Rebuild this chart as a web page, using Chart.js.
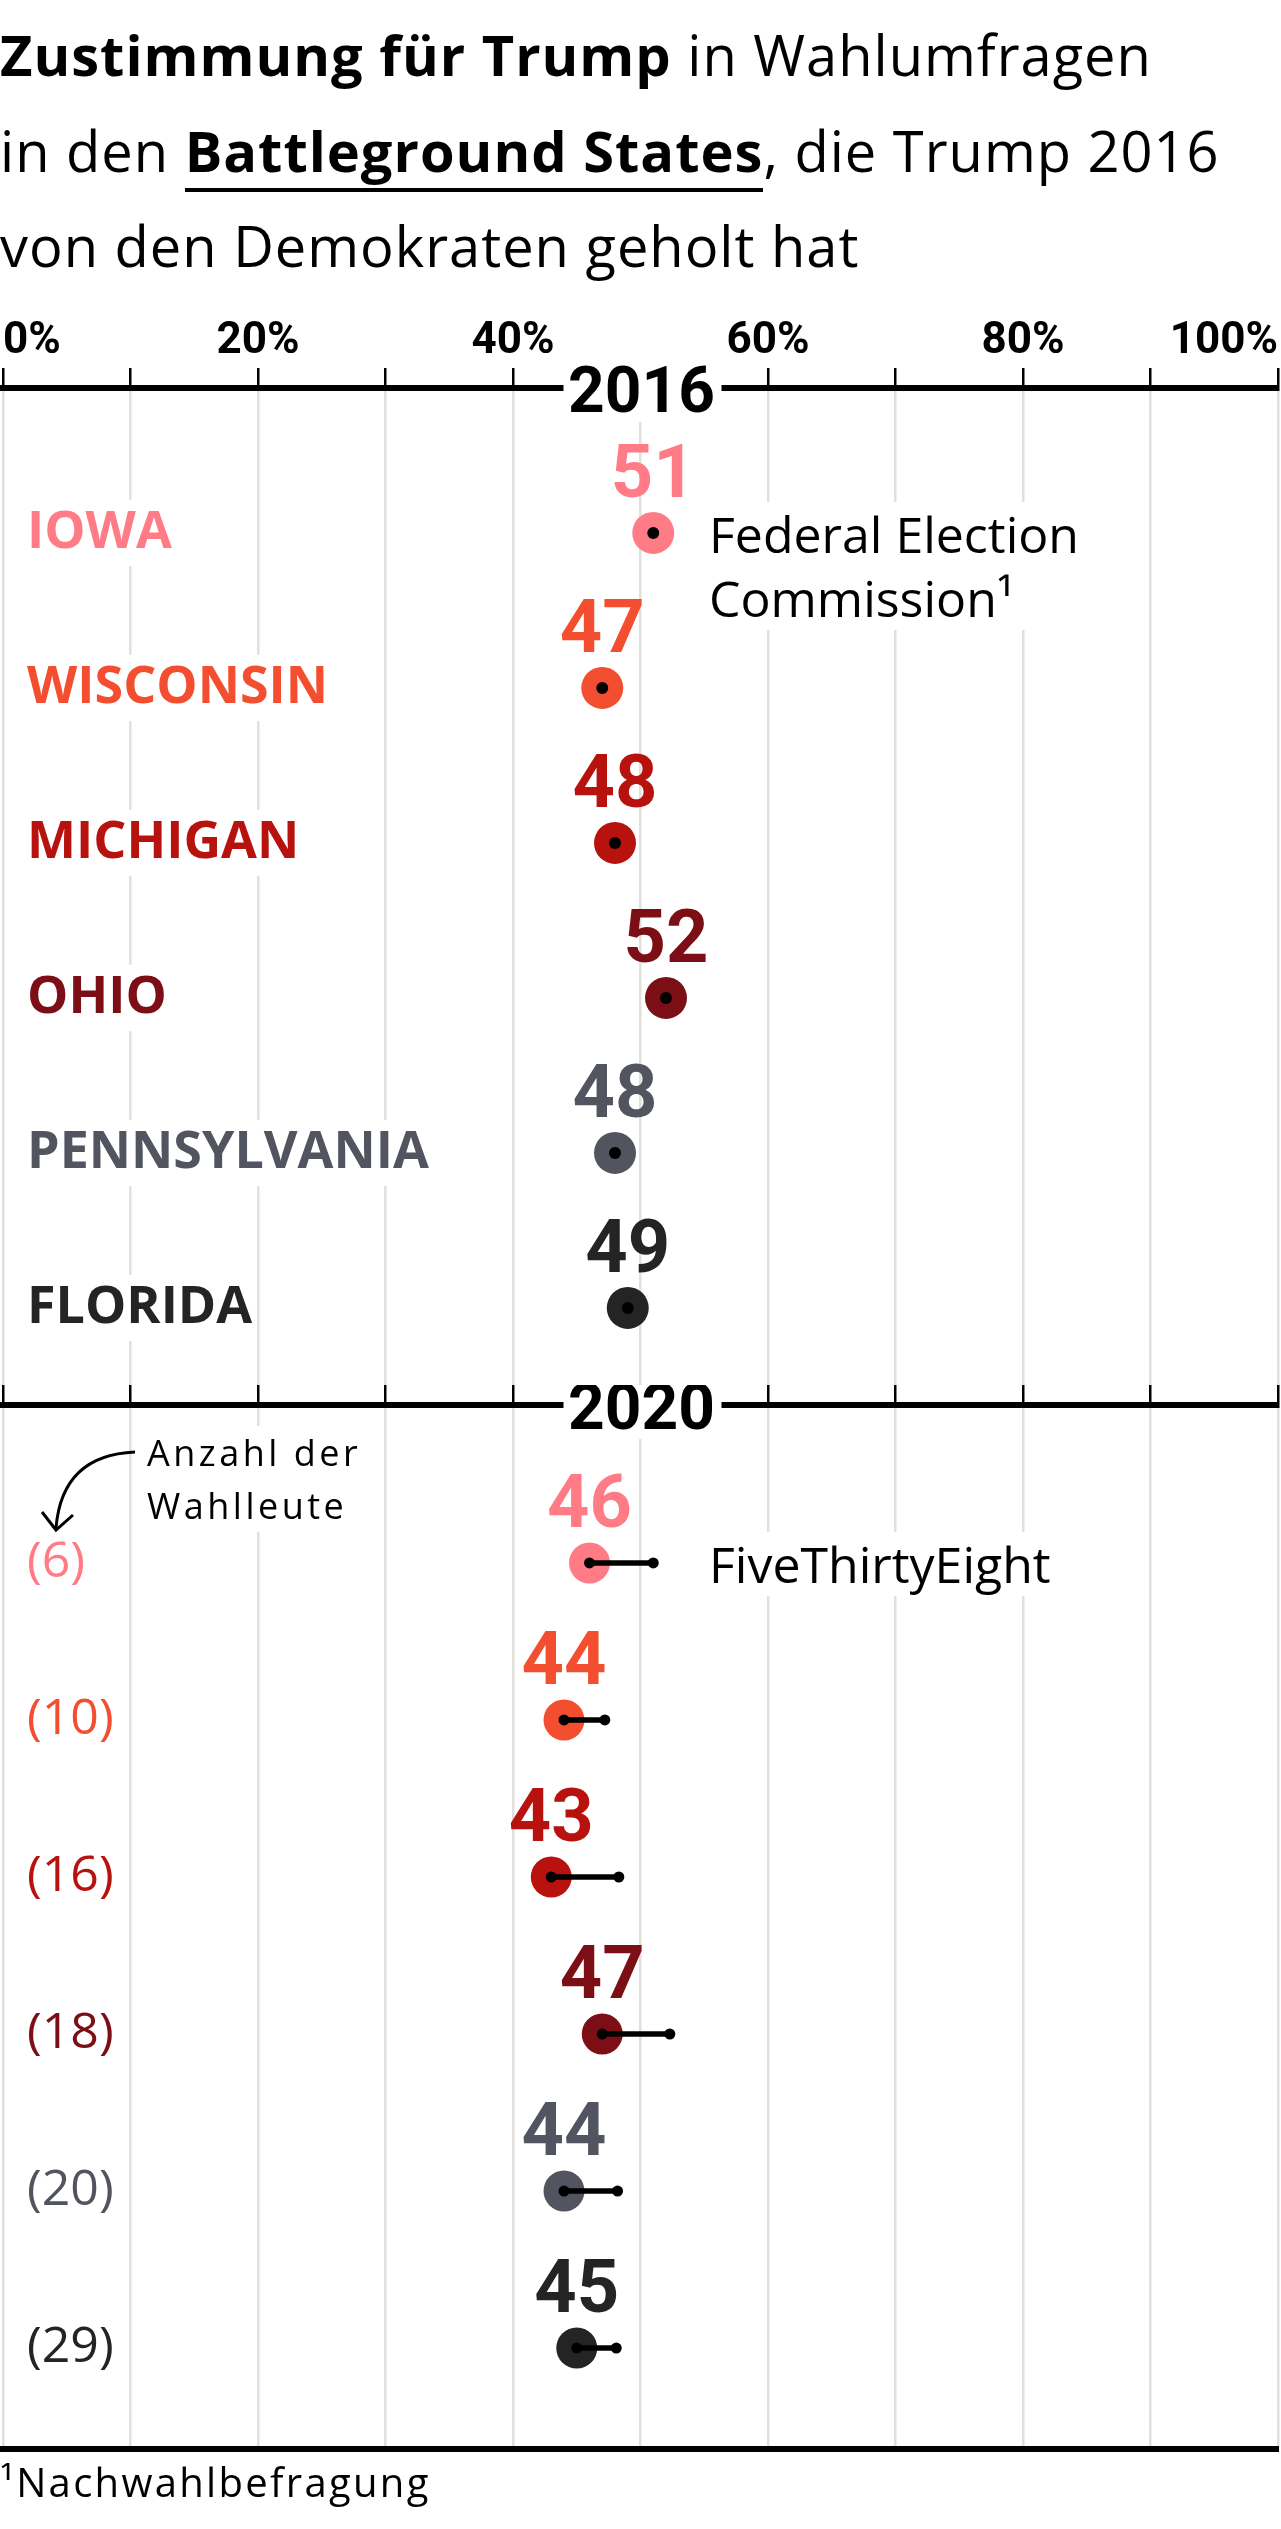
<!DOCTYPE html>
<html lang="de">
<head>
<meta charset="utf-8">
<title>Zustimmung für Trump in Wahlumfragen</title>
<script src="https://cdn.jsdelivr.net/npm/chart.js@4.4.0/dist/chart.umd.min.js"></script>
<style>
  body { margin: 0; background: #fff; font-family: 'Open Sans', sans-serif; color: #000; }
  #page { position: relative; width: 1281px; height: 2529px; overflow: hidden; }
  .abs { position: absolute; white-space: nowrap; }
  #title { left: 0; top: 7px; font-size: 56px; line-height: 95.5px; letter-spacing: 1px; }
  #title b { font-weight: 700; }
  .ul { border-bottom: 4px solid #000; }
  .note { font-size: 50px; line-height: 64px; background: #fff; }
  .small { font-size: 36px; line-height: 53px; letter-spacing: 3.5px; background: #fff; }
  #foot { left: 0; top: 2457px; font-size: 40px; line-height: 50px; letter-spacing: 2.3px; }
  .wrap { position: absolute; left: 0; width: 1281px; }
</style>
</head>
<body>
<div id="page">
  <div id="title" class="abs">
    <b>Zustimmung für Trump</b> in Wahlumfragen<br>
    in den <b class="ul">Battleground States</b>, die Trump 2016<br>
    von den Demokraten geholt hat
  </div>

  <div class="wrap" style="top:320px;height:1065px"><canvas id="c2016"></canvas></div>
  <div class="wrap" style="top:1385px;height:1070px"><canvas id="c2020"></canvas></div>

  <div class="abs note" style="left:709px;top:502px">Federal Election<br>Commission¹</div>
  <div class="abs note" style="left:709px;top:1532px">FiveThirtyEight</div>
  <div class="abs small" style="left:147px;top:1426px">Anzahl der<br>Wahlleute</div>
  <svg class="abs" style="left:0;top:1440px" width="150" height="100">
    <path d="M135 12 Q62 15 56 88" fill="none" stroke="#000" stroke-width="3"/>
    <path d="M42 72 L56 90 L73 75" fill="none" stroke="#000" stroke-width="3"/>
  </svg>
  <div id="foot" class="abs">¹Nachwahlbefragung</div>
</div>

<script>
// Daten
var states = ["IOWA", "WISCONSIN", "MICHIGAN", "OHIO", "PENNSYLVANIA", "FLORIDA"];
var electors = ["(6)", "(10)", "(16)", "(18)", "(20)", "(29)"];
var stateColors = ["#ff7b86", "#f34e2f", "#b8120e", "#7c0e16", "#52545f", "#242424"];
var result2016 = [51, 47, 48, 52, 48, 49];
var poll2020 = [46, 44, 43, 47, 44, 45];
var pollEnd2020 = [51, 47.2, 48.3, 52.3, 48.2, 48.1];
var tickLabels = ["0%", "20%", "40%", "60%", "80%", "100%"];

var gridColor = "#e3dfdb";

function points(values) {
    return values.map(function (v, i) {
        return { x: v, y: i };
    });
}

// Zahl über jedem Punkt
var valueLabels = {
    id: "valueLabels",
    afterDatasetsDraw: function (chart, args, opts) {
        var ctx = chart.ctx;
        var meta = chart.getDatasetMeta(opts.datasetIndex);
        ctx.save();
        ctx.font = "bold 74px Roboto";
        ctx.textAlign = "center";
        ctx.textBaseline = "alphabetic";
        meta.data.forEach(function (el, i) {
            ctx.fillStyle = opts.colors[i];
            ctx.fillText(String(opts.values[i]), el.x, el.y - 36);
        });
        ctx.restore();
    }
};

// Jahreszahl auf der Achse
var sectionLabel = {
    id: "sectionLabel",
    afterDraw: function (chart, args, opts) {
        var ctx = chart.ctx;
        var cx = chart.scales.x.getPixelForValue(50);
        var y = chart.chartArea.top;
        ctx.save();
        ctx.fillStyle = "#fff";
        ctx.fillRect(cx - 77, y - 22, 158, 56);
        ctx.fillStyle = "#000";
        ctx.font = "bold 64px Roboto";
        ctx.textAlign = "center";
        ctx.textBaseline = "alphabetic";
        ctx.fillText(opts.text, cx + 1, y + 23.5);
        ctx.restore();
    }
};

function xScale(showLabels, height) {
    return {
        type: "linear",
        position: "top",
        min: 0,
        max: 100,
        offset: false,
        grid: { color: gridColor, lineWidth: 2.5, tickColor: "#000", tickWidth: 2.5, tickLength: 20 },
        border: { color: "#000", width: 6 },
        ticks: {
            display: showLabels,
            stepSize: 10,
            autoSkip: false,
            maxRotation: 0,
            align: "inner",
            padding: 0,
            color: "#000",
            font: { family: "Roboto", weight: "bold", size: 44 },
            callback: function (v) {
                return v % 20 === 0 ? tickLabels[v / 20] : "";
            }
        },
        afterFit: function (s) {
            s.height = height;
            s.paddingLeft = 0;
            s.paddingRight = 0;
        }
    };
}

function yScale(labels, min, max, weight) {
    return {
        type: "linear",
        reverse: true,
        offset: false,
        min: min,
        max: max,
        grid: { display: false },
        border: { display: false },
        afterBuildTicks: function (s) {
            s.ticks = labels.map(function (n, i) {
                return { value: i };
            });
        },
        afterFit: function (s) {
            s.width = 0;
            s.paddingTop = 0;
            s.paddingBottom = 0;
        },
        ticks: {
            mirror: true,
            padding: 24,
            showLabelBackdrop: true,
            backdropColor: "#fff",
            backdropPadding: 2,
            color: function (c) {
                return stateColors[c.index];
            },
            font: { family: "Open Sans", weight: weight, size: weight === "bold" ? 52 : 50 },
            callback: function (v) {
                return labels[v];
            }
        }
    };
}

var common = {
    responsive: true,
    maintainAspectRatio: false,
    animation: false,
    events: [],
    layout: { autoPadding: false, padding: { left: 3, right: 3, top: 0, bottom: 0 } }
};

new Chart("c2016", {
    type: "scatter",
    data: {
        datasets: [
            { data: points(result2016), pointRadius: 6, backgroundColor: "#000", borderWidth: 0, order: 1 },
            { data: points(result2016), pointRadius: 21, backgroundColor: stateColors, borderWidth: 0, order: 3 }
        ]
    },
    options: Object.assign({}, common, {
        plugins: {
            legend: { display: false },
            tooltip: { enabled: false },
            valueLabels: { datasetIndex: 1, values: result2016, colors: stateColors },
            sectionLabel: { text: "2016" }
        },
        scales: {
            x: xScale(true, 68),
            y: yScale(states, -0.935, 5.497, "bold")
        }
    }),
    plugins: [valueLabels, sectionLabel]
});

new Chart("c2020", {
    type: "scatter",
    data: {
        datasets: [
            { data: points(poll2020), pointRadius: 5.5, backgroundColor: "#000", borderWidth: 0, order: 1 },
            { data: points(pollEnd2020), pointRadius: 5.5, backgroundColor: "#000", borderWidth: 0, order: 1 },
            {
                type: "bar",
                indexAxis: "y",
                data: poll2020.map(function (v, i) {
                    return { x: [v, pollEnd2020[i]], y: i };
                }),
                backgroundColor: "#000",
                barThickness: 5,
                order: 2
            },
            { data: points(poll2020), pointRadius: 20.5, backgroundColor: stateColors, borderWidth: 0, order: 3 }
        ]
    },
    options: Object.assign({}, common, {
        plugins: {
            legend: { display: false },
            tooltip: { enabled: false },
            valueLabels: { datasetIndex: 3, values: poll2020, colors: stateColors },
            sectionLabel: { text: "2020" }
        },
        scales: {
            x: xScale(false, 20),
            y: yScale(electors, -1.006, 5.643, "normal"),
            x2: {
                type: "linear",
                position: "bottom",
                min: 0,
                max: 100,
                grid: { display: false },
                border: { color: "#000", width: 6 },
                ticks: { display: false },
                afterFit: function (s) {
                    s.height = 6;
                }
            }
        }
    }),
    plugins: [valueLabels, sectionLabel]
});
</script>
</body>
</html>
